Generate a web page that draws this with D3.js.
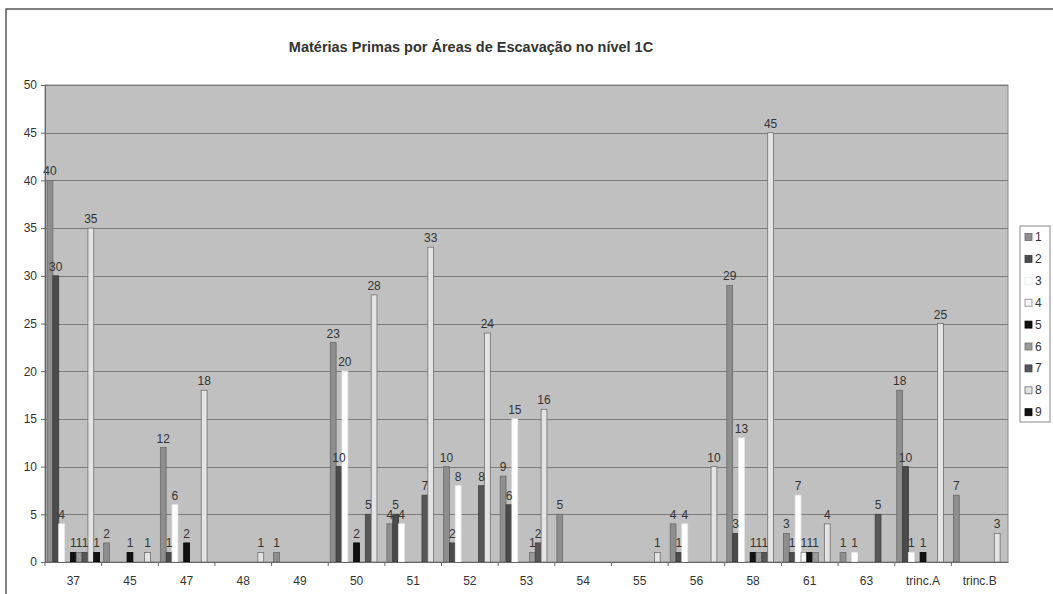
<!DOCTYPE html>
<html>
<head>
<meta charset="utf-8">
<script src="https://cdn.jsdelivr.net/npm/d3@7"></script>
<style>
  body { margin: 0; background: #fff; }
  text { font-family: "Liberation Sans", Arial, sans-serif; fill: #333; }
</style>
</head>
<body>
<script>
// categorias (áreas de escavação) e séries (matérias primas 1..9)
var categorias = ['37','45','47','48','49','50','51','52','53','54','55','56','58','61','63','trinc.A','trinc.B'];
var series = ['1','2','3','4','5','6','7','8','9'];
//            37   45   47   48   49   50   51   52   53   54   55   56   58   61   63   tA   tB
var s1 = [    40,   2,  12,null,   1,  23,   4,  10,   9,   5,null,   4,  29,   3,   1,  18,   7];
var s2 = [    30,null,   1,null,null,  10,   5,   2,   6,null,null,   1,   3,   1,null,  10,null];
var s3 = [     4,null,   6,null,null,  20,   4,   8,  15,null,null,   4,  13,   7,   1,   1,null];
var s4 = [  null,null,null,null,null,null,null,null,null,null,null,null,null,   1,null,null,null];
var s5 = [     1,   1,   2,null,null,   2,null,null,null,null,null,null,   1,   1,null,   1,null];
var s6 = [     1,null,null,null,null,null,null,null,   1,null,null,null,   1,   1,null,null,null];
var s7 = [     1,null,null,null,null,   5,   7,   8,   2,null,null,null,   1,null,   5,null,null];
var s8 = [    35,   1,  18,   1,null,  28,  33,  24,  16,null,   1,  10,  45,   4,null,  25,   3];
var s9 = [     1,null,null,null,null,null,null,null,null,null,null,null,null,null,null,null,null];
var valores = [s1,s2,s3,s4,s5,s6,s7,s8,s9];
var yTicks = [0,5,10,15,20,25,30,35,40,45,50];

var fills   = ['#8e8e8e','#4b4b4b','#ffffff','#f4f4f4','#111111','#9a9a9a','#575757','#e4e4e4','#111111'];
var strokes = ['#6a6a6a','#3a3a3a','#e8e8e8','#8a8a8a','#000000','#707070','#404040','#6e6e6e','#000000'];

var W = 1053, H = 594;
var plot = {left:45, right:1008, top:85, bottom:562};

var svg = d3.select("body").append("svg").attr("width",W).attr("height",H);

// moldura do gráfico
svg.append("rect").attr("x",6).attr("y",9).attr("width",W+10).attr("height",H+10)
   .attr("fill","#fff").attr("stroke","#555").attr("stroke-width",1.5);

var x = d3.scaleBand().domain(categorias).range([plot.left, plot.right]).padding(0);
var xs = d3.scaleBand().domain(series).range([0, x.bandwidth()]).paddingInner(0).paddingOuter(0.35);
var y = d3.scaleLinear().domain([0,50]).range([plot.bottom, plot.top]);

// área do gráfico
svg.append("rect").attr("x",plot.left).attr("y",plot.top)
   .attr("width",plot.right-plot.left).attr("height",plot.bottom-plot.top)
   .attr("fill","#c0c0c0").attr("stroke","#8a8a8a").attr("stroke-width",1);

// linhas de grade
svg.append("g").selectAll("line").data(yTicks.slice(1)).enter().append("line")
   .attr("x1",plot.left).attr("x2",plot.right)
   .attr("y1",function(d){ return Math.round(y(d))+0.5; })
   .attr("y2",function(d){ return Math.round(y(d))+0.5; })
   .attr("stroke","#7a7a7a").attr("stroke-width",1);

// barras
var linhas = [];
valores.forEach(function(arr,si){
  arr.forEach(function(v,ci){
    if (v != null) linhas.push({s:si, c:categorias[ci], v:v});
  });
});

svg.append("g").selectAll("rect").data(linhas).enter().append("rect")
   .attr("x",function(d){ return x(d.c)+xs(series[d.s]); })
   .attr("width",xs.bandwidth())
   .attr("y",function(d){ return y(d.v); })
   .attr("height",function(d){ return y(0)-y(d.v); })
   .attr("fill",function(d){ return fills[d.s]; })
   .attr("stroke",function(d){ return strokes[d.s]; })
   .attr("stroke-width",0.8);

// rótulos dos valores
svg.append("g").selectAll("text").data(linhas).enter().append("text")
   .attr("x",function(d){ return x(d.c)+xs(series[d.s])+xs.bandwidth()/2; })
   .attr("y",function(d){ return y(d.v)-5; })
   .attr("text-anchor","middle")
   .style("font-size","12px")
   .text(function(d){ return d.v; });

// eixo Y
var yAxis = d3.axisLeft(y).tickValues(yTicks).tickSize(4).tickPadding(4);
var gy = svg.append("g").attr("transform","translate("+plot.left+",0)").call(yAxis);
gy.select(".domain").attr("stroke","#666");
gy.selectAll(".tick line").attr("stroke","#666");
gy.selectAll("text").style("font-size","12px").attr("fill","#333");

// eixo X
var xAxis = d3.axisBottom(x).tickSize(0).tickPadding(14);
var gx = svg.append("g").attr("transform","translate(0,"+plot.bottom+")").call(xAxis);
gx.select(".domain").attr("stroke","#666");
gx.selectAll("text").style("font-size","12px").attr("fill","#333");
// marcas entre categorias
gx.selectAll(".sep").data(categorias).enter().append("line")
  .attr("x1",function(d){ return x(d); }).attr("x2",function(d){ return x(d); })
  .attr("y1",0).attr("y2",4).attr("stroke","#666");

// título
svg.append("text").attr("x",471).attr("y",52).attr("text-anchor","middle")
   .style("font-size","14.5px").style("font-weight","bold").attr("fill","#222")
   .text("Matérias Primas por Áreas de Escavação no nível 1C");

// legenda
var leg = svg.append("g");
leg.append("rect").attr("x",1020).attr("y",226).attr("width",30).attr("height",196)
   .attr("fill","#fff").attr("stroke","#888");
var item = leg.selectAll("g").data(series).enter().append("g")
   .attr("transform",function(d,i){ return "translate(1025,"+(237+i*21.9)+")"; });
item.append("rect").attr("x",0).attr("y",-3.5).attr("width",7).attr("height",7)
   .attr("fill",function(d,i){ return fills[i]; })
   .attr("stroke",function(d,i){ return strokes[i]; }).attr("stroke-width",0.8);
item.append("text").attr("x",10).attr("y",4).style("font-size","12px").text(function(d){ return d; });
</script>
</body>
</html>
